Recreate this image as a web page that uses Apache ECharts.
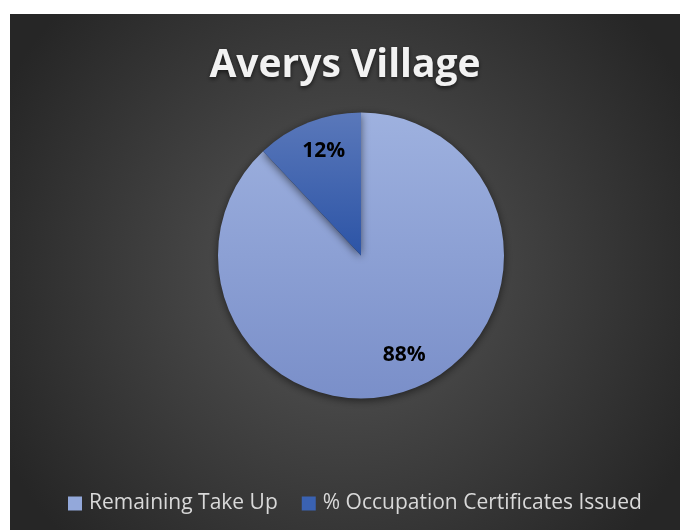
<!DOCTYPE html>
<html>
<head>
<meta charset="utf-8">
<script src="https://cdn.jsdelivr.net/npm/echarts@6/dist/echarts.min.js"></script>
<style>
    html, body { margin: 0; padding: 0; background: #ffffff; }
    #chart { position: absolute; left: 10px; top: 14px; width: 670px; height: 516px; }
</style>
</head>
<body>
<div id="chart"></div>
<script>
var chartTitle = 'Averys Village';
var categories = ['Remaining Take Up', '% Occupation Certificates Issued'];
var percentValues = [88, 12];
var sliceColors = [
    ['#9EB1DF', '#7A8FC9'],   // light slice, top -> bottom
    ['#5A78BA', '#2C54A6']    // dark slice
];
var legendColors = ['#93A8DA', '#3A62B2'];

function vGradient(pair) {
    return new echarts.graphic.LinearGradient(0, 0, 0, 1, [
        { offset: 0, color: pair[0] },
        { offset: 1, color: pair[1] }
    ]);
}

var pieData = categories.map(function (name, i) {
    return {
        name: name,
        value: percentValues[i],
        itemStyle: { color: vGradient(sliceColors[i]) }
    };
});

// same values again, only used to carry the labels a bit further out
var labelData = categories.map(function (name, i) {
    return { name: name, value: percentValues[i] };
});

var myChart = echarts.init(document.getElementById('chart'));

myChart.setOption({
    animation: false,
    backgroundColor: new echarts.graphic.RadialGradient(0.5, 0.5, 0.75, [
        { offset: 0, color: '#575757' },
        { offset: 1, color: '#262626' }
    ]),
    title: {
        text: chartTitle,
        left: 'center',
        top: 27,
        textStyle: {
            fontFamily: 'Open Sans',
            fontSize: 39,
            fontWeight: 'bold',
            color: '#f2f2f2',
            textShadowColor: 'rgba(0,0,0,0.6)',
            textShadowBlur: 4,
            textShadowOffsetY: 2
        }
    },
    legend: {
        left: 53,
        top: 474,
        icon: 'rect',
        itemWidth: 14,
        itemHeight: 14,
        itemGap: 24,
        selectedMode: false,
        textStyle: {
            fontFamily: 'Open Sans',
            fontSize: 21,
            color: '#d9d9d9',
            padding: [0, 0, 0, 2]
        },
        data: categories.map(function (name, i) {
            return { name: name, itemStyle: { color: legendColors[i] } };
        })
    },
    series: [
        {
            name: 'main',
            type: 'pie',
            center: [351, 241.5],
            radius: [0, 143],
            startAngle: 90,
            clockwise: true,
            label: { show: false },
            labelLine: { show: false },
            itemStyle: {
                shadowBlur: 8,
                shadowColor: 'rgba(0,0,0,0.55)',
                shadowOffsetY: 2
            },
            emphasis: { disabled: true },
            data: pieData
        },
        {
            name: 'labels',
            type: 'pie',
            center: [354, 239],
            radius: [70, 143],
            startAngle: 90,
            clockwise: true,
            silent: true,
            itemStyle: { color: 'transparent' },
            label: {
                show: true,
                position: 'inside',
                formatter: '{c}%',
                fontFamily: 'Open Sans',
                fontSize: 21,
                fontWeight: 'bold',
                color: '#000000'
            },
            labelLine: { show: false },
            emphasis: { disabled: true },
            data: labelData
        }
    ]
});
</script>
</body>
</html>
